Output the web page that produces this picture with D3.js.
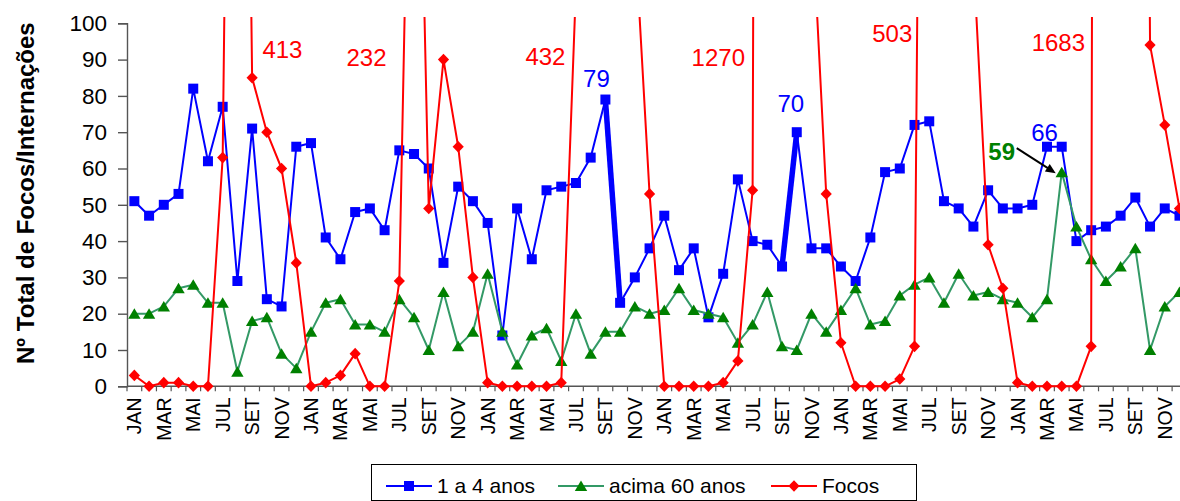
<!DOCTYPE html>
<html>
<head>
<meta charset="utf-8">
<script src="https://cdn.jsdelivr.net/npm/d3@7"></script>
<style>
  html, body { margin: 0; padding: 0; background: #fff; }
  svg { display: block; font-family: "Liberation Sans", Arial, sans-serif; }
</style>
</head>
<body>
<svg id="chart" width="1180" height="501"></svg>
<script>
// Month names (Portuguese) and the six years of monthly observations
const months = ["JAN", "FEV", "MAR", "ABR", "MAI", "JUN", "JUL", "AGO", "SET", "OUT", "NOV", "DEZ"];
const yearCount = 6;
const categories = d3.range(yearCount).flatMap(() => months);
const shownMonths = ["JAN", "MAR", "MAI", "JUL", "SET", "NOV"];
const yTicks = [0, 10, 20, 30, 40, 50, 60, 70, 80, 90, 100];

// Hospitalisations, children 1 to 4 years
const criancas = [
  51, 47, 50, 53, 82, 62, 77, 29, 71, 24, 22, 66,
  67, 41, 35, 48, 49, 43, 65, 64, 60, 34, 55, 51,
  45, 14, 49, 35, 54, 55, 56, 63, 79, 23, 30, 38,
  47, 32, 38, 19, 31, 57, 40, 39, 33, 70, 38, 38,
  33, 29, 41, 59, 60, 72, 73, 51, 49, 44, 54, 49,
  49, 50, 66, 66, 40, 43, 44, 47, 52, 44, 49, 47
];

// Hospitalisations, adults over 60
const idosos = [
  20, 20, 22, 27, 28, 23, 23, 4, 18, 19, 9, 5,
  15, 23, 24, 17, 17, 15, 24, 19, 10, 26, 11, 15,
  31, 15, 6, 14, 16, 7, 20, 9, 15, 15, 22, 20,
  21, 27, 21, 20, 19, 12, 17, 26, 11, 10, 20, 15,
  21, 27, 17, 18, 25, 28, 30, 23, 31, 25, 26, 24,
  23, 19, 24, 59, 44, 35, 29, 33, 38, 10, 22, 26
];

// Fire outbreaks (focos) per month; the dry-season peaks run far above the axis
const focos = [
  3, 0, 1, 1, 0, 0, 63, 413, 85, 70, 60, 34,
  0, 1, 3, 9, 0, 0, 29, 232, 49, 90, 66, 30,
  1, 0, 0, 0, 0, 1, 110, 260, 432, 300, 125, 53,
  0, 0, 0, 0, 1, 7, 54, 1270, 850, 400, 133, 53,
  12, 0, 0, 0, 2, 11, 503, 380, 240, 118, 39, 27,
  1, 0, 0, 0, 0, 11, 1683, 1150, 700, 94, 72, 49
];

// Months whose values are written on the chart
const focosPeakIdx = [7, 19, 32, 43, 54, 66];
const criancasLabelIdx = [32, 45, 62];
const idososLabelIdx = [63];
// Segments of the children's series drawn heavier
const criancasBoldSegments = [[32, 33], [44, 45]];

// ---- layout ----
const W = 1180, H = 501;
const plotLeft = 127, step = 14.72;
const plotRight = plotLeft + categories.length * step;
const yBottom = 386.3, yTop = 23.3;

const svg = d3.select("#chart");
svg.append("rect").attr("width", W).attr("height", H).attr("fill", "#fff");

const x = d3.scaleBand().domain(d3.range(categories.length)).range([plotLeft, plotRight]).paddingInner(0).paddingOuter(0);
const cx = i => x(i) + x.bandwidth() / 2;
const y = d3.scaleLinear().domain([0, 100]).range([yBottom, yTop]);

// ---- axes ----
const axisColor = "#555";

const yAxis = svg.append("g").attr("transform", `translate(${plotLeft},0)`)
  .call(d3.axisLeft(y).tickValues(yTicks).tickSize(9).tickPadding(11).tickFormat(d3.format("d")));
yAxis.select(".domain").attr("stroke", axisColor).attr("stroke-width", 1.4);
yAxis.selectAll(".tick line").attr("stroke", axisColor).attr("stroke-width", 1.4);
yAxis.selectAll(".tick text").attr("font-size", 22.5).attr("fill", "#000")
  .attr("font-family", "'Liberation Sans', Arial, sans-serif");

// x axis: tick marks sit on the month boundaries
const xg = svg.append("g");
xg.append("line").attr("x1", plotLeft).attr("x2", plotRight).attr("y1", yBottom).attr("y2", yBottom)
  .attr("stroke", axisColor).attr("stroke-width", 1.4);
xg.selectAll("line.tk").data(d3.range(categories.length + 1)).join("line").attr("class", "tk")
  .attr("x1", i => plotLeft + i * step).attr("x2", i => plotLeft + i * step)
  .attr("y1", yBottom).attr("y2", yBottom + 5)
  .attr("stroke", axisColor).attr("stroke-width", 1.2);
xg.selectAll("text").data(categories.map((m, i) => ({ m, i })).filter(d => shownMonths.includes(d.m)))
  .join("text")
  .attr("transform", d => `translate(${cx(d.i)},${yBottom + 11}) rotate(-90)`)
  .attr("text-anchor", "end").attr("dy", "0.36em")
  .attr("font-size", 19.5).attr("fill", "#000")
  .text(d => d.m);

// y axis title
svg.append("text")
  .attr("transform", `translate(33.5,${(yTop + 363) / 2}) rotate(-90)`)
  .attr("text-anchor", "middle").attr("font-size", 24).attr("font-weight", "bold").attr("fill", "#000")
  .text("Nº Total de Focos/Internações");

// ---- series ----
svg.append("defs").append("clipPath").attr("id", "plotClip")
  .append("rect").attr("x", plotLeft).attr("y", 17).attr("width", W - plotLeft).attr("height", H - 17);

const squarePath = "M-5,-5H5V5H-5Z";
const trianglePath = "M0,-5.5L6.2,5L-6.2,5Z";
const diamondPath = "M0,-5.8L5.6,0L0,5.8L-5.6,0Z";

const line = d3.line().x((d, i) => cx(i)).y(d => y(d));

function drawSeries(values, lineColor, lineWidth) {
  const g = svg.append("g");
  g.append("path").datum(values).attr("d", line)
    .attr("fill", "none").attr("stroke", lineColor).attr("stroke-width", lineWidth)
    .attr("stroke-linejoin", "round").attr("clip-path", "url(#plotClip)");
  return g;
}
function drawMarkers(g, values, markerPath, markerColor) {
  g.selectAll("path.mk").data(values.map((v, i) => ({ v, i })).filter(d => d.v <= 100))
    .join("path").attr("class", "mk")
    .attr("d", markerPath)
    .attr("transform", d => `translate(${cx(d.i)},${y(d.v)})`)
    .attr("fill", markerColor);
}

// 1 a 4 anos
const gBlue = drawSeries(criancas, "#0000FF", 2);
gBlue.selectAll("line.bold").data(criancasBoldSegments).join("line").attr("class", "bold")
  .attr("x1", d => cx(d[0])).attr("y1", d => y(criancas[d[0]]))
  .attr("x2", d => cx(d[1])).attr("y2", d => y(criancas[d[1]]))
  .attr("stroke", "#0000FF").attr("stroke-width", 5.5);
drawMarkers(gBlue, criancas, squarePath, "#0000FF");

// acima 60 anos
const gGreen = drawSeries(idosos, "#339966", 2);
drawMarkers(gGreen, idosos, trianglePath, "#008000");

// Focos
const gRed = drawSeries(focos, "#FF0000", 2);
drawMarkers(gRed, focos, diamondPath, "#FF0000");

// ---- value labels ----
const peakLabelPos = [[45, 58], [-47.5, 65.5], [-60, 65], [-49, 65.5], [-37, 41.5], [-47.5, 50.5]];
svg.append("g").selectAll("text").data(focosPeakIdx).join("text")
  .attr("x", (i, k) => cx(i) + peakLabelPos[k][0]).attr("y", (i, k) => peakLabelPos[k][1])
  .attr("text-anchor", "middle").attr("font-size", 24).attr("fill", "#FF0000")
  .text(i => focos[i]);

const blueLabelOff = [[-9, -12.5], [-6, -20], [-2.5, -6]];
svg.append("g").selectAll("text").data(criancasLabelIdx).join("text")
  .attr("x", (i, k) => cx(i) + blueLabelOff[k][0]).attr("y", (i, k) => y(criancas[i]) + blueLabelOff[k][1])
  .attr("text-anchor", "middle").attr("font-size", 24).attr("fill", "#0000FF")
  .text(i => criancas[i]);

const gl = svg.append("g");
idososLabelIdx.forEach(i => {
  const px = cx(i), py = y(idosos[i]);
  gl.append("text").attr("x", px - 60).attr("y", py - 12)
    .attr("text-anchor", "middle").attr("font-size", 24).attr("font-weight", "bold").attr("fill", "#008000")
    .text(idosos[i]);
  // pointer from the label to the marker
  const x1 = px - 45, y1 = py - 24, x2 = px - 6, y2 = py + 1;
  const ang = Math.atan2(y2 - y1, x2 - x1);
  gl.append("line").attr("x1", x1).attr("y1", y1)
    .attr("x2", x2 - 7 * Math.cos(ang)).attr("y2", y2 - 7 * Math.sin(ang))
    .attr("stroke", "#000").attr("stroke-width", 2);
  const hl = 10, hw = 4.5;
  const bx = x2 - hl * Math.cos(ang), by = y2 - hl * Math.sin(ang);
  gl.append("path")
    .attr("d", `M${x2},${y2}L${bx - hw * Math.sin(ang)},${by + hw * Math.cos(ang)}L${bx + hw * Math.sin(ang)},${by - hw * Math.cos(ang)}Z`)
    .attr("fill", "#000");
});

// ---- legend ----
const lg = svg.append("g");
lg.append("rect").attr("x", 371.5).attr("y", 464.5).attr("width", 545).attr("height", 36)
  .attr("fill", "#fff").attr("stroke", "#000").attr("stroke-width", 1);
const legendItems = [
  { name: "1 a 4 anos", color: "#0000FF", mColor: "#0000FF", path: squarePath, x0: 386 },
  { name: "acima 60 anos", color: "#339966", mColor: "#008000", path: trianglePath, x0: 558 },
  { name: "Focos", color: "#FF0000", mColor: "#FF0000", path: diamondPath, x0: 771 }
];
const li = lg.selectAll("g").data(legendItems).join("g");
li.append("line").attr("x1", d => d.x0).attr("x2", d => d.x0 + 46).attr("y1", 486).attr("y2", 486)
  .attr("stroke", d => d.color).attr("stroke-width", 2);
li.append("path").attr("d", d => d.path).attr("transform", d => `translate(${d.x0 + 23},486)`)
  .attr("fill", d => d.mColor);
li.append("text").attr("x", d => d.x0 + 51).attr("y", 493).attr("font-size", 21).attr("fill", "#000")
  .text(d => d.name);
</script>
</body>
</html>
